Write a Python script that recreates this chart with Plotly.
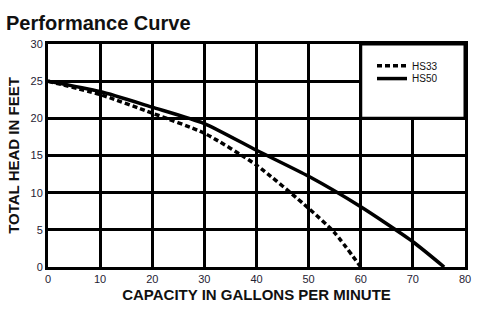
import plotly.graph_objects as go

# Data
hs50_gpm = [0, 10, 20, 30, 40, 50, 60, 70, 76]
hs50_head = [25, 23.6, 21.5, 19.3, 15.7, 12.2, 8.1, 3.4, 0]
hs33_gpm = [0, 10, 20, 30, 40, 50, 55, 60]
hs33_head = [25, 23.2, 20.7, 18.0, 13.7, 7.9, 4.6, 0]

x_ticks = [0, 10, 20, 30, 40, 50, 60, 70, 80]
y_ticks = [0, 5, 10, 15, 20, 25, 30]

fig = go.Figure()
fig.add_trace(go.Scatter(x=hs33_gpm, y=hs33_head, name="HS33", mode="lines", legend="legend",
                         line=dict(color="black", width=3.5, dash="5px,3px", shape="spline", smoothing=0.6)))
fig.add_trace(go.Scatter(x=hs50_gpm, y=hs50_head, name="HS50", mode="lines", legend="legend2",
                         line=dict(color="black", width=3.5, shape="spline", smoothing=0.6)))

# legend box (white, covering grid cells 60-80 x 20-30)
fig.add_shape(type="rect", x0=60, x1=80, y0=20, y1=30, xref="x", yref="y",
              fillcolor="white", line=dict(color="black", width=3), layer="above")

axis_common = dict(showgrid=True, gridcolor="black", gridwidth=3, showline=True,
                   linecolor="black", linewidth=3, mirror=True, zeroline=False,
                   ticks="", tickfont=dict(family="Liberation Sans, Arial", size=11, color="#1f2233"))

fig.update_xaxes(range=[0, 80], tickvals=x_ticks, ticktext=[str(v) for v in x_ticks],
                 title=dict(text="<b>CAPACITY IN GALLONS PER MINUTE</b>", standoff=6,
                            font=dict(family="Liberation Sans Narrow, Liberation Sans, Arial", size=15, color="#111")),
                 **axis_common)
fig.update_yaxes(range=[0, 30], tickvals=y_ticks, ticktext=[str(v) for v in y_ticks],
                 title=dict(text="<b>TOTAL HEAD IN FEET</b>", standoff=8,
                            font=dict(family="Liberation Sans Narrow, Liberation Sans, Arial", size=15, color="#111")),
                 **axis_common)

legend_common = dict(xanchor="left", yanchor="middle", bgcolor="rgba(0,0,0,0)", borderwidth=0,
                     font=dict(family="Liberation Sans, Arial", size=10, color="#111"), itemwidth=30)

fig.update_layout(
    width=503, height=326,
    margin=dict(l=48, r=38, t=44, b=59),
    paper_bgcolor="white", plot_bgcolor="white",
    title=dict(text="<b>Performance Curve</b>", x=0.012, xanchor="left", y=0.93, yanchor="middle",
               font=dict(family="Liberation Sans, Arial", size=20, color="#111")),
    legend=dict(x=0.777, y=0.903, **legend_common),
    legend2=dict(x=0.777, y=0.845, **legend_common),
    showlegend=True,
)

fig.write_html("out.html")
